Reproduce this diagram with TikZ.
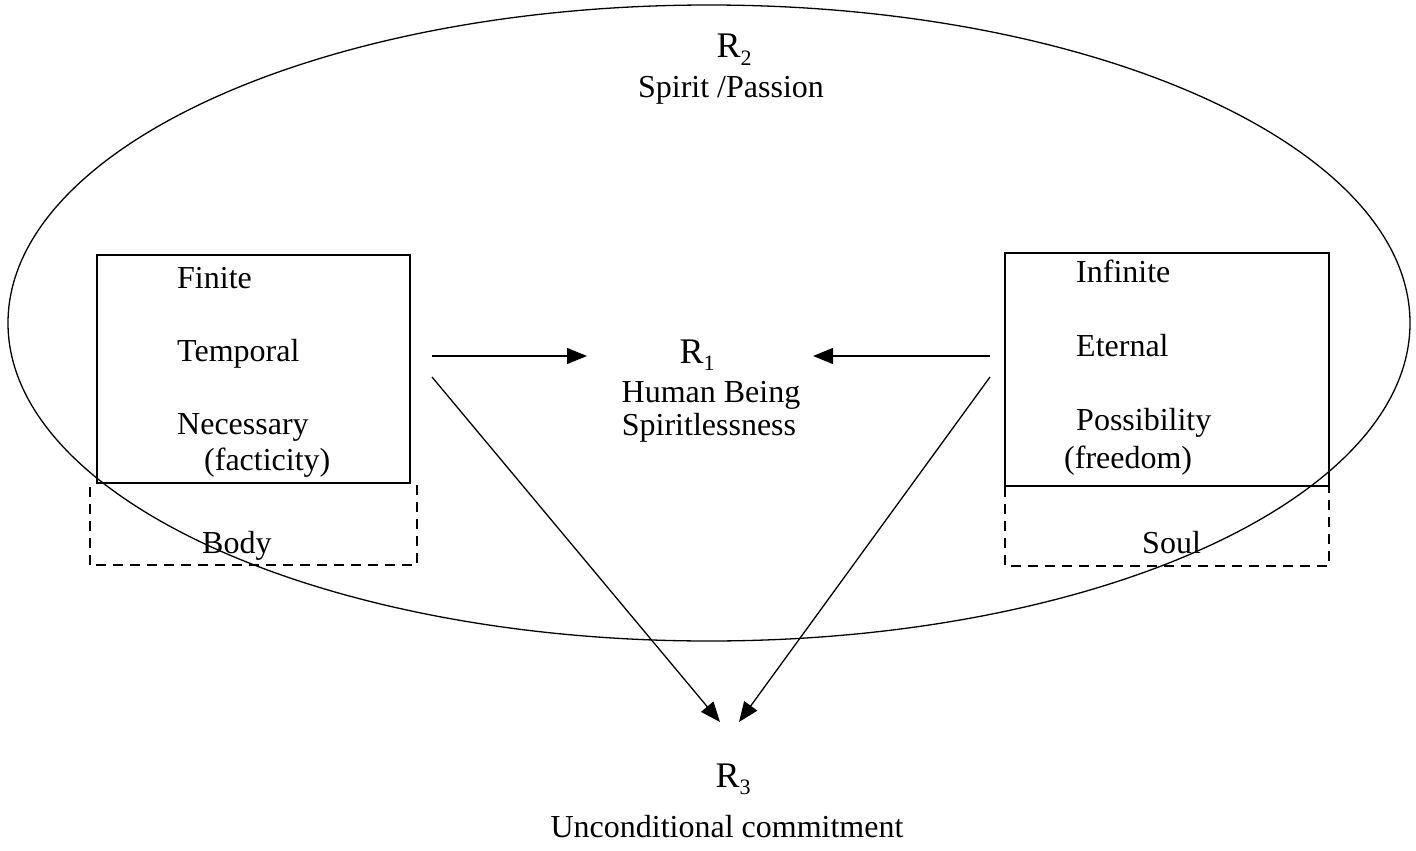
\documentclass[tikz,border=0pt]{standalone}
\usepackage{fontspec}
\setmainfont{Liberation Serif}
\usetikzlibrary{arrows.meta}
\newcommand{\Rsub}[1]{\fontsize{36}{38}\selectfont R\raisebox{-0.2em}{\fontsize{22}{22}\selectfont #1}}
\tikzset{
  lbl/.style={anchor=base west, inner sep=0pt, font=\fontsize{32}{34}\selectfont},
  clbl/.style={anchor=base, inner sep=0pt, font=\fontsize{32}{34}\selectfont},
  solidbox/.style={draw, line width=1.8pt},
  dashbox/.style={draw, line width=1.5pt, dash pattern=on 10pt off 7pt},
  arr/.style={line width=1.3pt, -{Triangle[length=20pt,width=16pt]}},
}
\begin{document}
\begin{tikzpicture}[x=1pt,y=-1pt]
\useasboundingbox (0,0) rectangle (1416,851);
% outer ellipse
\draw[line width=1.3pt] (709,323) ellipse [x radius=701, y radius=318];
% left boxes
\draw[solidbox] (97,255) rectangle (410,483);
\draw[dashbox] (90,565) -- (90,485) (417,485) -- (417,565) -- (90,565);
% right boxes
\draw[solidbox] (1005,253) rectangle (1329,486);
\draw[dashbox] (1005,487) -- (1005,566) -- (1329,566) -- (1329,487);
% left texts
\node[lbl] (finite) at (177,288) {Finite};
\node[lbl] (temporal) at (177,361) {Temporal};
\node[lbl] (necessary) at (177,434) {Necessary};
\node[lbl] (facticity) at (204,470) {(facticity)};
\node[lbl] (body) at (202,553) {Body};
% right texts
\node[lbl] (infinite) at (1076,282) {Infinite};
\node[lbl] (eternal) at (1076,356) {Eternal};
\node[lbl] (possibility) at (1076,430) {Possibility};
\node[lbl] (freedom) at (1064,468) {(freedom)};
\node[lbl] (soul) at (1142,553) {Soul};
% centre texts
\node[clbl] (r2) at (734,58) {\Rsub{2}};
\node[clbl] (spirit) at (731,97) {Spirit /Passion};
\node[clbl] (r1) at (697,363) {\Rsub{1}};
\node[clbl] (human) at (711,402) {Human Being};
\node[clbl] (spiritless) at (709,435) {Spiritlessness};
\node[clbl] (r3) at (733,787) {\Rsub{3}};
\node[clbl] (uncond) at (727,837) {Unconditional commitment};
% arrows
\coordinate (la) at (432,356);
\coordinate (lb) at (587,356);
\coordinate (ra) at (990,356);
\coordinate (rb) at (813,356);
\coordinate (ld) at (432,377);
\coordinate (le) at (720,722);
\coordinate (rd) at (990,377);
\coordinate (re) at (739,722);
\draw[arr] (la) -- (lb);
\draw[arr] (ra) -- (rb);
\draw[arr] (ld) -- (le);
\draw[arr] (rd) -- (re);
\end{tikzpicture}
\end{document}
